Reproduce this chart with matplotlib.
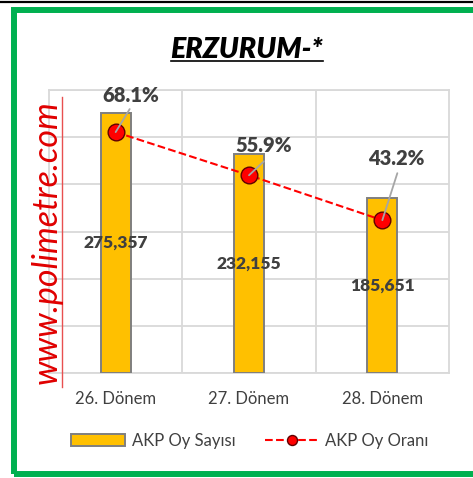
import numpy as np
import matplotlib
matplotlib.use("Agg")
import matplotlib.pyplot as plt
from matplotlib.patches import Rectangle
from matplotlib.lines import Line2D

plt.rcParams['font.family'] = ['Lato', 'DejaVu Sans']

donemler = ["26. Dönem", "27. Dönem", "28. Dönem"]
oy_sayisi = [275357, 232155, 185651]
oy_orani = [68.1, 55.9, 43.2]

W, H = 473, 478
fig = plt.figure(figsize=(W / 100, H / 100), dpi=100)

def fx(px):
    return px / W

def fy(py):
    return 1 - py / H

text_col = "#404040"
grid_col = "#D9D9D9"

ax = fig.add_axes([fx(49), fy(373), fx(400), 283 / H])
x = np.arange(len(donemler))
bars = ax.bar(x, oy_sayisi, width=0.225, color="#FFC000", edgecolor="#7F7F7F",
              linewidth=1.4, zorder=3, label="AKP Oy Sayısı")
ax.set_xlim(-0.5, 2.5)
ax.set_ylim(0, 300000)
ax.set_yticks(np.arange(0, 300001, 50000))
ax.set_xticks(x)
ax.set_xticks([0.5, 1.5], minor=True)
ax.set_xticklabels(donemler, fontsize=12, color=text_col)
ax.tick_params(axis="x", which="both", length=0, pad=13)
ax.tick_params(axis="y", length=0, labelleft=False)
ax.grid(True, axis="y", color=grid_col, linewidth=1.3, zorder=0)
ax.grid(True, axis="x", which="minor", color=grid_col, linewidth=1.3, zorder=0)
for s in ax.spines.values():
    s.set_color(grid_col)
    s.set_linewidth(1.3)

for xi, v in zip(x, oy_sayisi):
    ax.text(xi, v / 2, f"{v:,}", ha="center", va="center", fontsize=12.5,
            fontweight="heavy", color=text_col, zorder=5)

ax2 = ax.twinx()
ax2.set_ylim(0, 80)
ax2.axis("off")
line, = ax2.plot(x, oy_orani, color="red", linestyle="--", linewidth=1.5,
                 marker="o", markersize=12, markerfacecolor="red",
                 markeredgecolor="#600000", markeredgewidth=1,
                 label="AKP Oy Oranı", zorder=4)

lead_ends = [(14, 23), (15, 14), (15, 47)]
label_offs = [(15, 37), (15, 30), (14, 62)]
for xi, v, le, lo in zip(x, oy_orani, lead_ends, label_offs):
    ax2.annotate("", xy=(xi, v), xytext=le, textcoords="offset pixels",
                 arrowprops=dict(arrowstyle="-", color="#A6A6A6", lw=1.3,
                                 shrinkA=0, shrinkB=0), zorder=6)
    ax2.annotate(f"{v}%", xy=(xi, v), xytext=lo, textcoords="offset pixels",
                 ha="center", va="center", fontsize=14.5, fontweight="heavy",
                 color=text_col, zorder=7)

# title
title = fig.text(fx(247), fy(58.5), "ERZURUM-*", ha="center", va="baseline",
                 fontsize=20.5, fontweight="heavy", fontstyle="italic", color="black")

# watermark
fig.text(fx(47), fy(242), "www.polimetre.com", rotation=90, ha="center",
         va="center", fontsize=24.5, fontstyle="italic", color="#E00000")
fig.add_artist(Line2D([fx(62), fx(62)], [fy(97), fy(387)], color="#E85050",
                      linewidth=1, transform=fig.transFigure))

# legend
fig.legend(handles=[bars, line], loc="center", bbox_to_anchor=(fx(250), fy(441)),
           ncol=2, frameon=False, fontsize=12, handlelength=3.2, handleheight=0.72,
           handletextpad=0.4, columnspacing=1.8, markerscale=0.6,
           labelcolor=text_col)

# borders
fig.add_artist(Rectangle((fx(14), fy(473.5)), fx(480 - 14), (473.5 - 10) / H,
                         fill=False, edgecolor="#00B050", linewidth=4.3,
                         transform=fig.transFigure))
fig.add_artist(Line2D([0, 1], [fy(2), fy(2)], color="black", linewidth=1.6,
                      transform=fig.transFigure))

fig.canvas.draw()
bb = title.get_window_extent()
fig.add_artist(Line2D([bb.x0 / W, bb.x1 / W], [fy(61), fy(61)], color="black",
                      linewidth=1.2, transform=fig.transFigure))

fig.savefig("out.png", dpi=100)
